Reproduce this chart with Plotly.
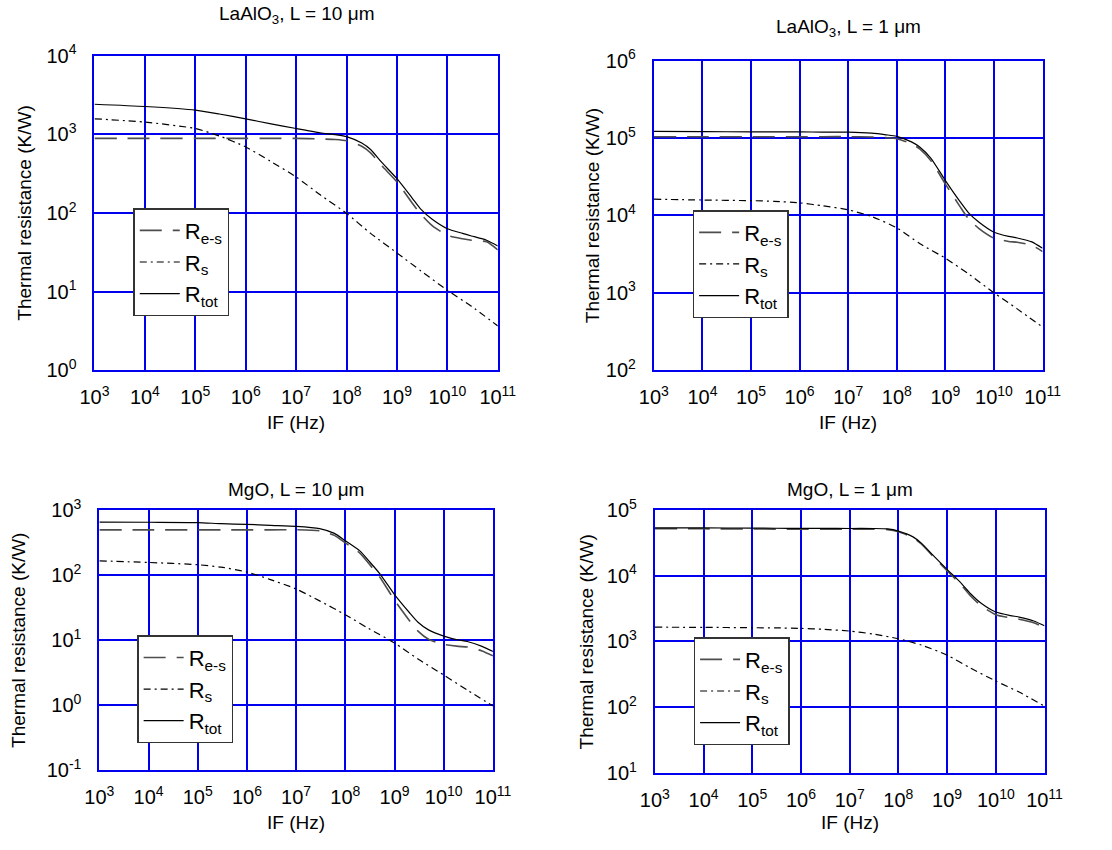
import plotly.graph_objects as go

# ---------------- data ----------------
# frequency grid for R_tot and R_e-s (Hz)
FREQ = [1e3, 1e4, 1e5, 3e5, 1e6, 3e6, 1e7, 3e7, 6e7, 1e8, 2e8, 3e8, 5e8,
        1e9, 2e9, 3e9, 5e9, 1e10, 2e10, 3e10, 6e10, 1e11]
# frequency grid for R_s (Hz)
FREQ_S = [1e3, 1e4, 1e5, 3e5, 1e6, 3e6, 1e7, 3e7, 1e8, 3e8, 1e9, 3e9, 1e10, 3e10, 1e11]

PANEL_TITLES = ["LaAlO<sub>3</sub>, L = 10 μm", "LaAlO<sub>3</sub>, L = 1 μm",
                "MgO, L = 10 μm", "MgO, L = 1 μm"]

# LaAlO3, L = 10 um
LAO10_RTOT = [2415, 2260, 2035, 1815, 1577, 1367, 1186, 1048, 990, 936, 774, 641, 439,
              273, 155, 111, 83, 63, 55, 51, 45, 38]
LAO10_RES = [890, 890, 890, 890, 890, 890, 888, 875, 860, 828, 705, 582, 399,
             248, 134, 96, 69, 52, 47, 45, 43, 34]
LAO10_RS = [1577, 1433, 1186, 954, 692, 460, 287, 170, 99, 55, 31, 18.3, 10.4, 6.5, 3.66]

# LaAlO3, L = 1 um
LAO1_RTOT = [1.22e5, 1.21e5, 1.2e5, 1.2e5, 1.2e5, 1.19e5, 1.19e5, 1.155e5, 1.1e5, 1.05e5,
             8.9e4, 7.6e4, 5.5e4, 2.82e4, 1.51e4, 1.08e4, 8100, 6070, 5360, 5110, 4550, 3760]
LAO1_RES = [1.04e5, 1.04e5, 1.04e5, 1.04e5, 1.04e5, 1.04e5, 1.04e5, 1.03e5, 1.01e5, 9.8e4,
            8.4e4, 7.2e4, 5.1e4, 2.54e4, 1.3e4, 9000, 6700, 5070, 4610, 4490, 4100, 3400]
LAO1_RS = [1.62e4, 1.58e4, 1.55e4, 1.52e4, 1.45e4, 1.33e4, 1.18e4, 9700, 6900, 4300,
           2800, 1750, 1000, 620, 360]

# MgO, L = 10 um
MGO10_RTOT = [652, 647, 640, 615, 601, 581, 561, 518, 437, 336, 233, 165, 105,
              50, 26.5, 18.8, 14.2, 11.5, 10, 9.5, 8.0, 6.7]
MGO10_RES = [495, 495, 495, 495, 495, 495, 497, 478, 407, 311, 215, 150, 93,
             41, 20, 13.7, 10.2, 8.6, 8.0, 7.8, 6.8, 5.7]
MGO10_RS = [165, 156, 144, 132, 111, 85, 61, 40, 24.5, 15, 9.0, 5.1, 2.9, 1.7, 0.97]

# MgO, L = 1 um
MGO1_RTOT = [5.35e4, 5.33e4, 5.3e4, 5.27e4, 5.25e4, 5.24e4, 5.23e4, 5.23e4, 5.15e4, 4.78e4,
             3.9e4, 3.1e4, 2.09e4, 1.25e4, 7540, 5360, 3810, 2810, 2480, 2350, 2050, 1730]
MGO1_RES = [5.19e4, 5.17e4, 5.14e4, 5.12e4, 5.09e4, 5.09e4, 5.09e4, 5.1e4, 5.03e4, 4.67e4,
            3.8e4, 3.01e4, 2.01e4, 1.19e4, 7070, 4965, 3490, 2560, 2290, 2180, 1925, 1626]
MGO1_RS = [1650, 1640, 1620, 1610, 1580, 1530, 1440, 1300, 1100, 880, 620, 395, 250, 170, 104]

X_EXPONENTS = list(range(3, 12))
Y_EXP_RANGES = [(0, 4), (2, 6), (-1, 3), (1, 5)]

SERIES = [(LAO10_RES, LAO10_RS, LAO10_RTOT), (LAO1_RES, LAO1_RS, LAO1_RTOT),
          (MGO10_RES, MGO10_RS, MGO10_RTOT), (MGO1_RES, MGO1_RS, MGO1_RTOT)]

# ---------------- layout geometry (pixels) ----------------
W, H = 1112, 850
BOXES = [(82, 498, 43, 367), (659, 1060, 48, 367), (87, 493, 511, 779), (660, 1062, 511, 782)]
TITLE_Y = [1, 14, 490, 490]
XTITLE_Y = [421, 421, 833, 833]
YTITLE_X = [10, 596, 3, 590]
LEGEND_POS = [(122, 200), (699, 202), (126, 640), (700, 642)]

FONT = "Liberation Sans, Arial, sans-serif"
GRID = "#0000EE"


def fx(p):
    return p / W


def fy(p):
    return 1 - p / H


fig = go.Figure()
annotations = []
layout = dict(width=W, height=H, margin=dict(l=0, r=0, t=0, b=0),
              paper_bgcolor="white", plot_bgcolor="white",
              font=dict(family=FONT, size=19, color="black"))

for i in range(4):
    n = "" if i == 0 else str(i + 1)
    res, rs, rtot = SERIES[i]
    leg = "legend" + n
    xa, ya = "x" + n, "y" + n
    fig.add_trace(go.Scatter(x=FREQ, y=res, mode="lines", name="R<sub>e-s</sub>",
                             line=dict(color="#4d4d4d", width=1.6, dash="22px,11px", shape="spline", smoothing=0.6),
                             xaxis=xa, yaxis=ya, legend=leg))
    fig.add_trace(go.Scatter(x=FREQ_S, y=rs, mode="lines", name="R<sub>s</sub>",
                             line=dict(color="black", width=1.2, dash="7px,4px,2px,4px", shape="spline", smoothing=0.6),
                             xaxis=xa, yaxis=ya, legend=leg))
    fig.add_trace(go.Scatter(x=FREQ, y=rtot, mode="lines", name="R<sub>tot</sub>",
                             line=dict(color="black", width=1.2, shape="spline", smoothing=0.6),
                             xaxis=xa, yaxis=ya, legend=leg))

    l, r, t, b = BOXES[i]
    y0, y1 = Y_EXP_RANGES[i]
    common = dict(showgrid=True, gridcolor=GRID, gridwidth=1.5, showline=True, linecolor=GRID,
                  linewidth=2, mirror=True, ticks="", zeroline=False,
                  tickfont=dict(family=FONT, size=20, color="black"))
    layout["xaxis" + n] = dict(type="log", range=[3, 11], domain=[fx(l), fx(r)], anchor="y" + n,
                               tickvals=[10 ** k for k in X_EXPONENTS],
                               ticktext=[f"10<sup>{k}</sup>" for k in X_EXPONENTS],
                               ticklabelstandoff=8, **common)
    layout["yaxis" + n] = dict(type="log", range=[y0, y1], domain=[fy(b), fy(t)], anchor="x" + n,
                               tickvals=[10.0 ** k for k in range(y0, y1 + 1)],
                               ticktext=[f"10<sup>{k}</sup>" for k in range(y0, y1 + 1)],
                               ticklabelstandoff=12, **common)
    lx, ly = LEGEND_POS[i]
    layout[leg] = dict(x=fx(lx), y=fy(ly), xanchor="left", yanchor="top", bgcolor="white",
                       bordercolor="#333333", borderwidth=1.5, itemwidth=40,
                       font=dict(family=FONT, size=22, color="black"))
    cx = (l + r) / 2
    annotations.append(dict(text=PANEL_TITLES[i], x=fx(cx), y=fy(TITLE_Y[i]), xref="paper", yref="paper",
                            showarrow=False, xanchor="center", yanchor="middle",
                            font=dict(family=FONT, size=19, color="black")))
    annotations.append(dict(text="IF (Hz)", x=fx(cx), y=fy(XTITLE_Y[i]), xref="paper", yref="paper",
                            showarrow=False, xanchor="center", yanchor="middle",
                            font=dict(family=FONT, size=19, color="black")))
    annotations.append(dict(text="Thermal resistance (K/W)", x=fx(YTITLE_X[i]), y=fy((t + b) / 2),
                            xref="paper", yref="paper", showarrow=False, textangle=-90,
                            xanchor="center", yanchor="middle",
                            font=dict(family=FONT, size=19, color="black")))

layout["annotations"] = annotations
fig.update_layout(**layout)
fig.write_html("out.html")
